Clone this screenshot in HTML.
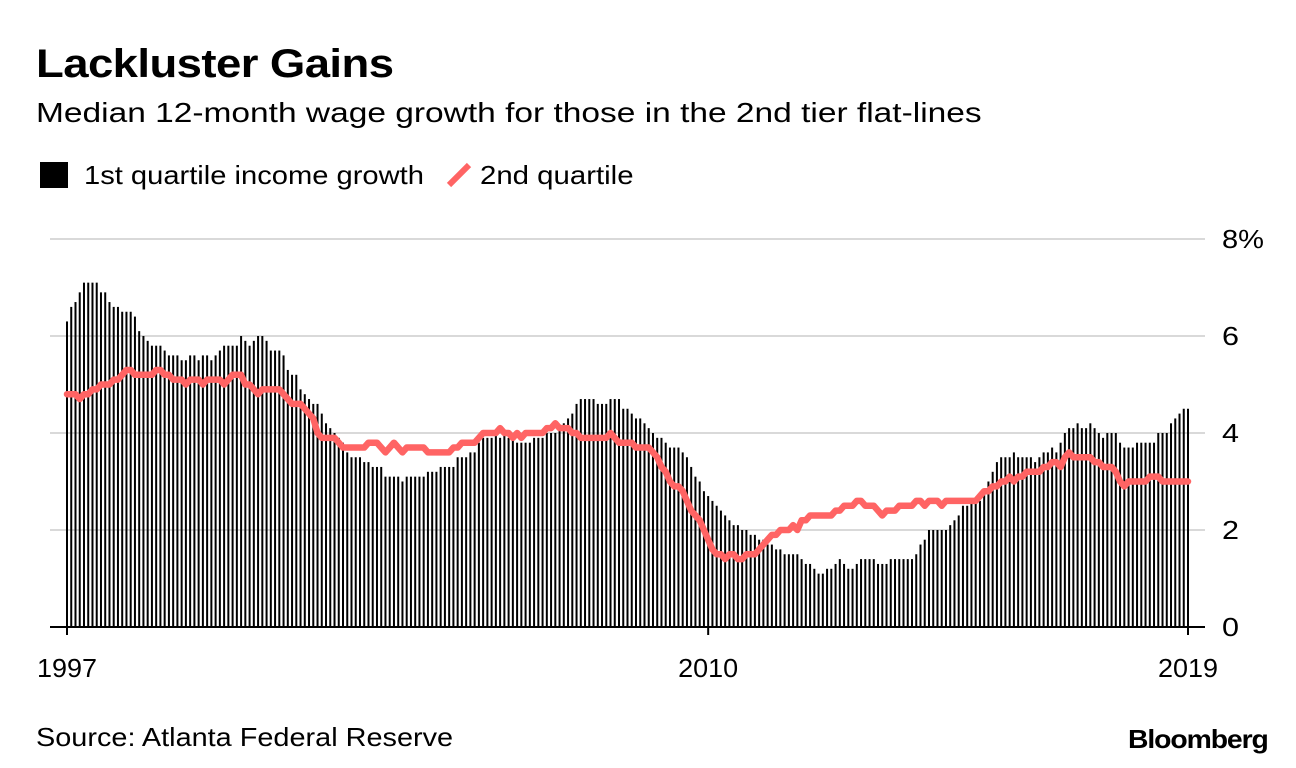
<!DOCTYPE html>
<html><head><meta charset="utf-8"><style>
body{margin:0;background:#fff;width:1296px;height:768px;overflow:hidden;font-family:"Liberation Sans",sans-serif;color:#000}
.t{position:absolute;white-space:nowrap;transform-origin:0 0}
</style></head><body>
<div class="t" style="left:36px;top:42px;font-size:40px;font-weight:bold;letter-spacing:-0.5px;transform:scaleX(1.137)">Lackluster Gains</div>
<div class="t" style="left:36px;top:97px;font-size:28px;transform:scaleX(1.196)">Median 12-month wage growth for those in the 2nd tier flat-lines</div>
<div class="t" style="left:40px;top:160px;font-size:26px"><span style="display:inline-block;width:28px;height:26px;background:#000;vertical-align:-4px;margin-right:16px"></span><span style="display:inline-block;transform:scaleX(1.12);transform-origin:0 0">1st quartile income growth</span></div>
<div class="t" style="left:446px;top:160px;font-size:26px"><svg width="26" height="26" style="vertical-align:-4px;margin-right:8px"><line x1="3" y1="23" x2="23" y2="3" stroke="#ff6464" stroke-width="6"/></svg><span style="display:inline-block;transform:scaleX(1.13);transform-origin:0 0">2nd quartile</span></div>
<div class="t" style="left:36px;top:722px;font-size:26px;transform:scaleX(1.11)">Source: Atlanta Federal Reserve</div>
<div class="t" style="left:1128px;top:724px;font-size:26px;font-weight:bold;letter-spacing:-1px;transform:scaleX(1.09)">Bloomberg</div>
<svg id="chart" width="1296" height="768" style="position:absolute;left:0;top:0"></svg>
<script>
const yTicks=[0,2,4,6,8];
const yTickLabels=["0","2","4","6","8%"];
const xTickIdx=[0,151,264];
const xTickLabels=["1997","2010","2019"];
const q1=[6.3,6.6,6.7,6.9,7.1,7.1,7.1,7.1,6.9,6.9,6.7,6.6,
6.6,6.5,6.5,6.5,6.4,6.1,6.0,5.9,5.8,5.8,5.8,5.7,
5.6,5.6,5.6,5.5,5.5,5.6,5.6,5.5,5.6,5.6,5.5,5.6,
5.7,5.8,5.8,5.8,5.8,6.0,5.9,5.8,5.9,6.0,6.0,5.9,
5.7,5.7,5.7,5.6,5.3,5.2,5.2,4.9,4.8,4.7,4.6,4.6,
4.4,4.2,4.1,4.0,3.9,3.8,3.6,3.5,3.5,3.5,3.4,3.4,
3.3,3.3,3.3,3.1,3.1,3.1,3.1,3.0,3.1,3.1,3.1,3.1,
3.1,3.2,3.2,3.2,3.3,3.3,3.3,3.3,3.5,3.5,3.5,3.6,
3.6,3.8,3.9,3.9,3.9,4.0,3.9,4.0,3.9,3.9,3.8,3.8,
3.8,3.8,3.9,3.9,3.9,4.0,4.0,4.0,4.1,4.2,4.3,4.4,
4.6,4.7,4.7,4.7,4.7,4.6,4.6,4.6,4.7,4.7,4.7,4.5,
4.5,4.4,4.3,4.3,4.2,4.1,4.0,3.9,3.9,3.8,3.7,3.7,
3.7,3.6,3.5,3.3,3.1,3.0,2.8,2.7,2.6,2.5,2.4,2.3,
2.2,2.1,2.1,2.0,2.0,1.9,1.9,1.8,1.8,1.7,1.7,1.6,
1.6,1.5,1.5,1.5,1.5,1.4,1.3,1.3,1.2,1.1,1.1,1.2,
1.2,1.3,1.4,1.3,1.2,1.2,1.3,1.4,1.4,1.4,1.4,1.3,
1.3,1.3,1.4,1.4,1.4,1.4,1.4,1.4,1.5,1.7,1.8,2.0,
2.0,2.0,2.0,2.0,2.1,2.2,2.3,2.5,2.5,2.6,2.6,2.6,
2.8,3.0,3.2,3.4,3.5,3.5,3.5,3.6,3.5,3.5,3.5,3.5,
3.4,3.5,3.6,3.6,3.7,3.6,3.8,4.0,4.1,4.1,4.2,4.1,
4.1,4.2,4.1,4.0,3.9,4.0,4.0,4.0,3.8,3.7,3.7,3.7,
3.8,3.8,3.8,3.8,3.8,4.0,4.0,4.0,4.2,4.3,4.4,4.5,
4.5];
const q2=[4.8,4.8,4.8,4.7,4.8,4.8,4.9,4.9,5.0,5.0,5.0,5.1,
5.1,5.2,5.3,5.3,5.2,5.2,5.2,5.2,5.2,5.3,5.3,5.2,
5.2,5.1,5.1,5.1,5.0,5.1,5.1,5.1,5.0,5.1,5.1,5.1,
5.1,5.0,5.1,5.2,5.2,5.2,5.0,5.0,4.9,4.8,4.9,4.9,
4.9,4.9,4.9,4.8,4.7,4.6,4.6,4.6,4.5,4.4,4.3,4.0,
3.9,3.9,3.9,3.9,3.8,3.7,3.7,3.7,3.7,3.7,3.7,3.8,
3.8,3.8,3.7,3.6,3.7,3.8,3.7,3.6,3.7,3.7,3.7,3.7,
3.7,3.6,3.6,3.6,3.6,3.6,3.6,3.7,3.7,3.8,3.8,3.8,
3.8,3.9,4.0,4.0,4.0,4.0,4.1,4.0,4.0,3.9,4.0,3.9,
4.0,4.0,4.0,4.0,4.0,4.1,4.1,4.2,4.1,4.1,4.1,4.0,
4.0,3.9,3.9,3.9,3.9,3.9,3.9,3.9,4.0,3.9,3.8,3.8,
3.8,3.8,3.7,3.7,3.7,3.7,3.6,3.5,3.3,3.2,3.0,2.9,
2.9,2.8,2.6,2.4,2.3,2.2,2.0,1.8,1.6,1.5,1.5,1.4,
1.5,1.5,1.4,1.4,1.5,1.5,1.5,1.6,1.7,1.8,1.9,1.9,
2.0,2.0,2.0,2.1,2.0,2.2,2.2,2.3,2.3,2.3,2.3,2.3,
2.3,2.4,2.4,2.5,2.5,2.5,2.6,2.6,2.5,2.5,2.5,2.4,
2.3,2.4,2.4,2.4,2.5,2.5,2.5,2.5,2.6,2.6,2.5,2.6,
2.6,2.6,2.5,2.6,2.6,2.6,2.6,2.6,2.6,2.6,2.6,2.7,
2.8,2.8,2.9,2.9,3.0,3.0,3.1,3.0,3.1,3.1,3.2,3.2,
3.2,3.2,3.3,3.3,3.4,3.4,3.3,3.5,3.6,3.5,3.5,3.5,
3.5,3.5,3.4,3.4,3.3,3.3,3.3,3.2,3.0,2.9,3.0,3.0,
3.0,3.0,3.0,3.1,3.1,3.1,3.0,3.0,3.0,3.0,3.0,3.0,
3.0];
const NS="http://www.w3.org/2000/svg";
const svg=document.getElementById('chart');
const X0=67,X1=1188,Y0=627,Y8=239;
function xs(i){return X0+i*(X1-X0)/(q1.length-1);}
function ys(v){return Y0-v*(Y0-Y8)/8;}
function mk(t,a){const e=document.createElementNS(NS,t);for(const k in a)e.setAttribute(k,a[k]);svg.appendChild(e);return e;}
yTicks.forEach((v,k)=>{
  if(v>0){const g=mk('line',{x1:50,x2:1205,y1:ys(v),y2:ys(v),stroke:'#d9d9d9','stroke-width':2});
  
  }
  const t=mk('text',{x:1222,y:ys(v)+9,'font-size':26,'font-family':'Liberation Sans, sans-serif',textLength:(v===8?42:17),lengthAdjust:'spacingAndGlyphs'});
  t.textContent=yTickLabels[k];
  
  
});
q1.forEach((v,i)=>{
  const b=mk('rect',{x:xs(i)-1,y:ys(v),width:2,height:Y0-ys(v),fill:'#000'});
  
  
});
const base=mk('line',{x1:50,x2:1205,y1:Y0,y2:Y0,stroke:'#000','stroke-width':2});


xTickIdx.forEach((ix,k)=>{
  const tk=mk('line',{x1:xs(ix),x2:xs(ix),y1:Y0,y2:Y0+8,stroke:'#000','stroke-width':2});
  
  
  const t=mk('text',{x:xs(ix),y:677,'font-size':26,'text-anchor':'middle','font-family':'Liberation Sans, sans-serif',textLength:60,lengthAdjust:'spacingAndGlyphs'});
  t.textContent=xTickLabels[k];
  
  
});
const pl=mk('polyline',{points:q2.map((v,i)=>xs(i)+','+ys(v)).join(' '),fill:'none',stroke:'#ff6464','stroke-width':6.5,'stroke-linejoin':'round','stroke-linecap':'round'});


</script>
</body></html>
